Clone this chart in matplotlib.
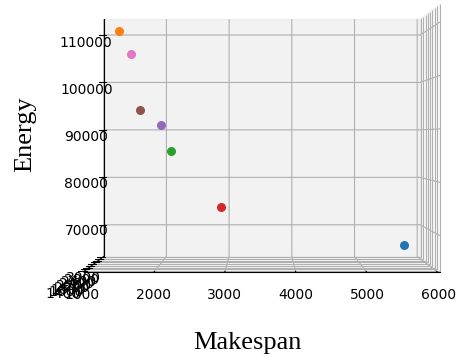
import matplotlib
matplotlib.use("Agg")
import matplotlib.pyplot as plt

# Solutions: makespan, a secondary cost, and energy
makespan = [5725, 1321, 2222, 2901, 1918, 1727, 1532]
cost = [2625, 2625, 1500, 2250, 3000, 1950, 2400]
energy = [66497, 110145, 85757, 74485, 90937, 93790, 105176]

fig = plt.figure(figsize=(4.58, 3.6), dpi=100)
ax = fig.add_axes([-0.1725, -0.126, 1.458, 1.447], projection="3d")
for mx, cy, ez in zip(makespan, cost, energy):
    ax.scatter(mx, cy, ez, s=30, depthshade=False)

ax.view_init(elev=0, azim=-90)

# Axis titles placed in figure coordinates
label_font = dict(family="Liberation Serif", fontsize=19)
fig.text(0.541, 0.047, "Makespan", ha="center", va="center", **label_font)
fig.text(0.055, 0.628, "Energy", ha="center", va="center", rotation=90, **label_font)

fig.savefig("out.png", dpi=100)
